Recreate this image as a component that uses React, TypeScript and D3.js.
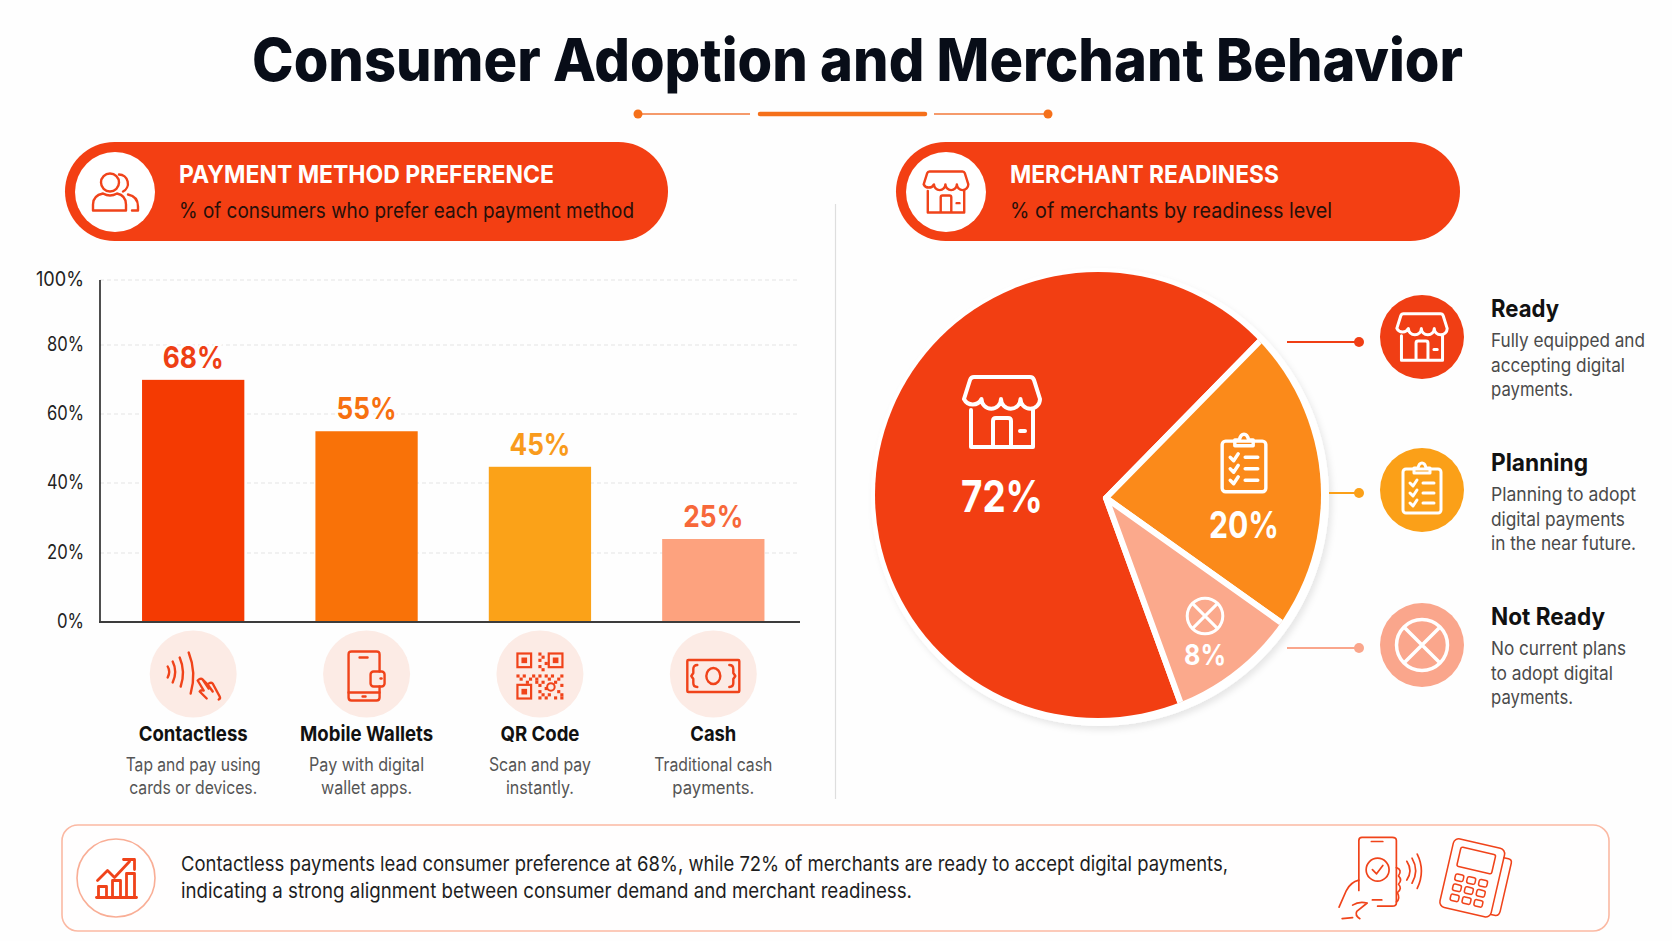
import React from "react";
import * as d3 from "d3";

/* DATA */
const categories = ["Contactless", "Mobile Wallets", "QR Code", "Cash"];
// bar heights as drawn in the picture, they differ a little from the printed labels
const barHeights = [69.9, 55, 44.7, 24];
const barLabels = ["68%", "55%", "45%", "25%"];
const barColors = ["#F43A02", "#F97208", "#FBA218", "#FDA27E"];
const barLabelColors = ["#EE3F14", "#F7700F", "#F99B1C", "#F7683A"];
const barCaptions = [
  ["Tap and pay using", "cards or devices."],
  ["Pay with digital", "wallet apps."],
  ["Scan and pay", "instantly."],
  ["Traditional cash", "payments."],
];
const yTicks = [0, 20, 40, 60, 80, 100];

const readiness = ["Ready", "Planning", "Not Ready"];
// slice sizes as drawn (angles), labels are the printed ones
const pieShares = [67.9, 22.5, 9.6];
const pieLabels = ["72%", "20%", "8%"];
const pieColors = ["#F23E12", "#FB8A1A", "#FBA98C"];
const legendColors = ["#F03E14", "#FBA018", "#FAA68C"];
const legendText = [
  ["Fully equipped and", "accepting digital", "payments."],
  ["Planning to adopt", "digital payments", "in the near future."],
  ["No current plans", "to adopt digital", "payments."],
];

const FONT = "Inter, 'Noto Sans', sans-serif";
const RED = "#F0431A";

// text widths measured on the picture, its lettering is narrower than Inter
const widths: Record<string, number> = {
  "Consumer Adoption and Merchant Behavior": 1211,
  "PAYMENT METHOD PREFERENCE": 375,
  "% of consumers who prefer each payment method": 455,
  "MERCHANT READINESS": 269,
  "% of merchants by readiness level": 322,
  "68%": 61,
  "55%": 60,
  "45%": 61,
  "25%": 60,
  Contactless: 109,
  "Mobile Wallets": 133,
  "QR Code": 79,
  Cash: 46,
  "Tap and pay using": 135,
  "cards or devices.": 128,
  "Pay with digital": 115,
  "wallet apps.": 91,
  "Scan and pay": 102,
  "instantly.": 68,
  "Traditional cash": 118,
  "payments.": 82,
  "Fully equipped and": 154,
  "accepting digital": 134,
  "Planning to adopt": 145,
  "digital payments": 134,
  "in the near future.": 145,
  "No current plans": 135,
  "to adopt digital": 122,
  Ready: 68,
  Planning: 97,
  "Not Ready": 114,
  "72%": 82,
  "20%": 70,
  "8%": 42,
  "Contactless payments lead consumer preference at 68%, while 72% of merchants are ready to accept digital payments,": 1047,
  "indicating a strong alignment between consumer demand and merchant readiness.": 731,
};
const tickWidth = (t: number) => (t === 100 ? 48 : t === 0 ? 27 : 37);

const T = ({ s, ...rest }: any) => (
  <text textLength={widths[s]} lengthAdjust="spacingAndGlyphs" {...rest}>
    {s}
  </text>
);

/* SCALES */
const x = d3.scaleBand<string>().domain(categories).range([106.5, 800]).paddingInner(0.41).paddingOuter(0.205);
// the axis in the picture is very slightly uneven, so the stops follow the gridlines
const y = d3.scaleLinear().domain(yTicks).range([622, 553, 483, 414, 345, 280]);

const apex = { x: 1106, y: 498 };
const pieGen = d3
  .pie<number>()
  .sort(null)
  .startAngle((160 * Math.PI) / 180)
  .endAngle((160 * Math.PI) / 180 + 2 * Math.PI);
const arcGen = d3.arc<d3.PieArcDatum<number>>().innerRadius(0).outerRadius(260);

/* ICONS */
type IconProps = { cx: number; cy: number; w: number; color?: string; sw?: number };

const Box = ({ cx, cy, w, bw, bh, color = RED, sw = 2.4, children }: any) => {
  const k = w / bw;
  return (
    <g
      transform={`translate(${cx - w / 2},${cy - (bh * k) / 2}) scale(${k})`}
      fill="none"
      stroke={color}
      strokeWidth={sw / k}
      strokeLinecap="round"
      strokeLinejoin="round"
    >
      {children}
    </g>
  );
};

const Store = (p: IconProps) => (
  <Box {...p} bw={80} bh={74}>
    <path d="M12 2H68Q71 2 72 5L78 24A9.75 9.75 0 0 1 58.5 24A9.75 9.75 0 0 1 39 24A9.75 9.75 0 0 1 19.5 24A9.75 9.75 0 0 1 2 24L8 5Q9 2 12 2Z" />
    <path d="M9 35V72H71V35M31 72V46Q31 43 34 43H46Q49 43 49 46V72M58 56H63" />
  </Box>
);

const Clipboard = (p: IconProps) => (
  <Box {...p} bw={40} bh={52}>
    <rect x={1} y={7} width={38} height={44} rx={3} />
    <path d="M12 11V6H16Q17 1 20 1Q23 1 24 6H28V11Z" />
    <path d="M8 21L11 24L15 18M21 21H32M8 31L11 34L15 28M21 31H32M8 41L11 44L15 38M21 41H32" />
  </Box>
);

const XCircle = (p: IconProps) => (
  <Box {...p} bw={52} bh={52}>
    <circle cx={26} cy={26} r={25} />
    <path d="M9 9L43 43M43 9L9 43" />
  </Box>
);

const Users = (p: IconProps) => (
  <Box {...p} bw={47} bh={39}>
    <circle cx={18} cy={10} r={9} />
    <path d="M1 38V32Q1 23 11 21Q18 25 25 21Q34 23 34 32V38Z" />
    <path d="M27 2A9 9 0 0 1 31 19M36 22Q46 24 46 34V38H40" />
  </Box>
);

const Contactless = (p: IconProps) => (
  <Box {...p} bw={55} bh={47}>
    <path d="M2 14Q5 19 2 25M7 9Q12 19 7 30M14 5Q20 19 15 34M23 0Q31 20 25 41" />
    <path d="M32 28Q35 25 37 27L42 32Q45 29 47 31L54 44Q55 46 53 47M32 28L38 38Q35 37 34 39L41 46M37 27L43 36M42 32L47 39" />
  </Box>
);

const Wallet = (p: IconProps) => (
  <Box {...p} bw={38} bh={51}>
    <path d="M32 21V4Q32 1 29 1H4Q1 1 1 4V47Q1 50 4 50H29Q32 50 32 47V36" />
    <path d="M12 7H20M1 42H32M15 46H18" />
    <rect x={23} y={21} width={14} height={15} rx={3} />
    <path d="M33 28H34" />
  </Box>
);

// finder squares and modules of the little QR glyph, on a 15 x 15 grid
const qrModules = [
  [7, 0], [8, 1], [7, 2], [9, 3], [7, 4], [8, 5], [0, 7], [2, 7], [4, 8], [5, 7], [7, 7], [9, 7], [11, 7], [13, 8], [14, 7],
  [1, 8], [3, 9], [6, 9], [8, 9], [10, 8], [12, 9], [14, 10], [7, 10], [9, 11], [7, 12], [8, 13], [10, 13], [7, 14], [9, 14],
  [13, 12], [14, 13], [12, 14], [14, 14], [6, 8],
];
const QR = ({ cx, cy, w, color = RED }: IconProps) => {
  const c = w / 15;
  const ox = cx - w / 2;
  const oy = cy - w / 2;
  const finder = [[0, 0], [10, 0], [0, 10]];
  return (
    <g fill={color}>
      {finder.map(([a, b]) => (
        <g key={`${a}-${b}`}>
          <rect x={ox + a * c + 1} y={oy + b * c + 1} width={5 * c - 2} height={5 * c - 2} fill="none" stroke={color} strokeWidth={2.2} />
          <rect x={ox + (a + 1.6) * c} y={oy + (b + 1.6) * c} width={1.8 * c} height={1.8 * c} />
        </g>
      ))}
      {qrModules.map(([a, b]) => (
        <rect key={`m${a}-${b}`} x={ox + a * c} y={oy + b * c} width={c} height={c} />
      ))}
      <circle cx={ox + 11 * c} cy={oy + 11 * c} r={c * 1.2} fill="none" stroke={color} strokeWidth={2} />
    </g>
  );
};

const Cash = (p: IconProps) => (
  <Box {...p} bw={54} bh={34}>
    <rect x={1} y={1} width={52} height={32} rx={1} />
    <ellipse cx={27} cy={17} rx={7} ry={8} />
    <path d="M11 6Q7 6 7 10V14L5 17L7 20V24Q7 28 11 28M43 6Q47 6 47 10V14L49 17L47 20V24Q47 28 43 28" />
  </Box>
);

const Trend = (p: IconProps) => (
  <Box {...p} bw={41} bh={41} sw={2.8}>
    <path d="M1 23L11 13L18 20L33 4M27 2H38V12" />
    <rect x={2} y={29} width={8} height={11} />
    <rect x={16} y={23} width={8} height={17} />
    <rect x={30} y={16} width={8} height={24} />
    <path d="M0 40H40" />
  </Box>
);

const PhoneTerminal = (p: IconProps) => (
  <Box {...p} bw={165} bh={80} sw={1.7}>
    <path d="M20 52V4Q20 1 23 1H52Q56 1 56 4V64Q56 67 52 67H38" />
    <path d="M32 5H43M33 61H42" />
    <circle cx={38} cy={32} r={11} />
    <path d="M33 32L37 36L43 28" />
    <path d="M1 68L8 52Q12 44 20 42M4 79L14 78M14 66Q20 62 28 64L18 72Q16 76 21 79M56 30Q62 32 58 38Q62 42 58 46Q62 50 57 54Q60 60 56 63" />
    <path d="M66 24Q72 33 66 42M71 21Q78 33 71 45M76 17Q84 33 76 50" />
    <g transform="translate(132,42) rotate(13) scale(0.9) translate(-130,-42)">
      <rect x={98} y={3} width={56} height={75} rx={6} />
      <path d="M154 12H159Q163 12 163 16V68Q163 74 158 74H154" />
      <rect x={107} y={11} width={38} height={21} rx={2} />
      {[0, 1, 2].map((r) =>
        [0, 1, 2].map((c) => <rect key={`${r}-${c}`} x={108 + c * 13} y={40 + r * 11} width={9} height={7} rx={2} />)
      )}
    </g>
  </Box>
);

const rowIcons = [Contactless, Wallet, QR, Cash];
const rowIconWidths = [55, 38, 47, 54];

const Pill = ({ x0, x1, tx, title, sub, children }: any) => (
  <g>
    <rect x={x0} y={142} width={x1 - x0} height={99} rx={49.5} fill="#F33F13" />
    <circle cx={x0 + 50} cy={192} r={40} fill="#fff" />
    {children}
    <T s={title} x={tx} y={183} fontSize={24.5} fontWeight={700} fill="#fff" />
    <T s={sub} x={tx} y={218} fontSize={21} fill="#27100A" />
  </g>
);

const App = () => {
  const slices = pieGen(pieShares);
  return (
    <svg
      width={1672}
      height={941}
      viewBox="0 0 1672 941"
      style={{ position: "absolute", left: 0, top: 0, background: "#FEFEFE" }}
      fontFamily={FONT}
    >
      <defs>
        <clipPath id="pie-clip">
          <circle cx={1098} cy={495} r={223} />
        </clipPath>
        <filter id="pie-shadow" x="-10%" y="-10%" width="120%" height="120%">
          <feDropShadow dx={3} dy={4} stdDeviation={3} floodColor="#000" floodOpacity={0.09} />
        </filter>
      </defs>

      {/* Title */}
      <T s="Consumer Adoption and Merchant Behavior" x={252} y={81} fontSize={59} fontWeight={800} fill="#080D18" />
      <line x1={638} x2={750} y1={114} y2={114} stroke="#F59A6B" strokeWidth={2} />
      <line x1={934} x2={1048} y1={114} y2={114} stroke="#F59A6B" strokeWidth={2} />
      <line x1={760} x2={925} y1={114} y2={114} stroke="#F5701A" strokeWidth={4.5} strokeLinecap="round" />
      <circle cx={638} cy={114} r={4.5} fill="#F5701A" />
      <circle cx={1048} cy={114} r={4.5} fill="#F5701A" />

      {/* Headers */}
      <Pill x0={65} x1={668} tx={179} title="PAYMENT METHOD PREFERENCE" sub="% of consumers who prefer each payment method">
        <Users cx={115.5} cy={192} w={47} />
      </Pill>
      <Pill x0={896} x1={1460} tx={1010} title="MERCHANT READINESS" sub="% of merchants by readiness level">
        <Store cx={946} cy={192} w={47} />
      </Pill>

      <line x1={835.5} x2={835.5} y1={204} y2={799} stroke="#DEDEDE" strokeWidth={1.2} />

      {/* Bar chart */}
      {yTicks.map((t) => (
        <g key={t}>
          {t > 0 && (
            <line x1={100} x2={799} y1={y(t)} y2={y(t)} stroke="#E4E4E4" strokeWidth={1.2} strokeDasharray="4 3" />
          )}
          <T s={`${t}%`} textLength={tickWidth(t)} x={84} y={y(t) + 5.5} textAnchor="end" fontSize={20} fill="#222" />
        </g>
      ))}
      {categories.map((c, i) => {
        const cx = x(c)! + x.bandwidth() / 2;
        const Icon = rowIcons[i];
        return (
          <g key={c}>
            <rect x={x(c)} y={y(barHeights[i])} width={x.bandwidth()} height={y(0) - y(barHeights[i])} fill={barColors[i]} />
            <T
              s={barLabels[i]}
              x={cx}
              y={y(barHeights[i]) - 12}
              textAnchor="middle"
              fontSize={30}
              fontWeight={700}
              fill={barLabelColors[i]}
              stroke="#FEFEFE"
              strokeWidth={5}
              paintOrder="stroke"
            />
            <circle cx={cx} cy={674} r={43.5} fill="#FCEBE5" />
            <Icon cx={cx} cy={676} w={rowIconWidths[i]} />
            <T s={c} x={cx} y={741} textAnchor="middle" fontSize={20.5} fontWeight={700} fill="#111" />
            {barCaptions[i].map((line, j) => (
              <T key={line} s={line} x={cx} y={771 + j * 23} textAnchor="middle" fontSize={18} fill="#555" />
            ))}
          </g>
        );
      })}
      <line x1={100} x2={100} y1={280} y2={622} stroke="#222" strokeWidth={1.6} />
      <line x1={99} x2={800} y1={y(0)} y2={y(0)} stroke="#3C3C3C" strokeWidth={2.2} />

      {/* Pie */}
      <circle cx={1100} cy={497} r={229} fill="#fff" filter="url(#pie-shadow)" />
      <g clipPath="url(#pie-clip)">
        <g transform={`translate(${apex.x},${apex.y})`}>
          {slices.map((s, i) => (
            <path key={readiness[i]} d={arcGen(s)!} fill={pieColors[i]} stroke="#fff" strokeWidth={6} strokeLinejoin="round" />
          ))}
        </g>
      </g>
      <Store cx={1002} cy={412} w={80} color="#fff" sw={4} />
      <T s={pieLabels[0]} x={1002} y={512} textAnchor="middle" fontSize={44} fontWeight={700} fill="#fff" />
      <Clipboard cx={1244} cy={463} w={46} color="#fff" sw={3.4} />
      <T s={pieLabels[1]} x={1244} y={538} textAnchor="middle" fontSize={37} fontWeight={700} fill="#fff" />
      <XCircle cx={1205} cy={616} w={37} color="#fff" sw={3} />
      <T s={pieLabels[2]} x={1205} y={665} textAnchor="middle" fontSize={29} fontWeight={700} fill="#fff" />

      {/* Legend */}
      {readiness.map((name, i) => {
        const cy = [337, 490, 645][i];
        const lineY = [342, 493, 648][i];
        const lineX = [1287, 1329, 1287][i];
        const titleY = [317, 471, 625][i];
        return (
          <g key={name}>
            <line x1={lineX} x2={1359} y1={lineY} y2={lineY} stroke={legendColors[i]} strokeWidth={2} />
            <circle cx={1359} cy={lineY} r={5} fill={legendColors[i]} />
            <circle cx={1422} cy={cy} r={42} fill={legendColors[i]} />
            {i === 0 && <Store cx={1422} cy={337} w={53} color="#fff" sw={3} />}
            {i === 1 && <Clipboard cx={1422} cy={488} w={40} color="#fff" sw={3} />}
            {i === 2 && <XCircle cx={1422} cy={645} w={53} color="#fff" sw={3.5} />}
            <T s={name} x={1491} y={titleY} fontSize={24} fontWeight={700} fill="#111" />
            {legendText[i].map((line, j) => (
              <T key={line} s={line} x={1491} y={titleY + 30 + j * 24.7} fontSize={18.5} fill="#4A4A4A" />
            ))}
          </g>
        );
      })}

      {/* Takeaway */}
      <rect x={62} y={825} width={1547} height={106} rx={16} fill="#FFFEFE" stroke="#FBB9A3" strokeWidth={1.6} />
      <circle cx={116} cy={878} r={39} fill="#fff" stroke="#F9AE96" strokeWidth={1.6} />
      <Trend cx={117} cy={878} w={41} />
      <T
        s="Contactless payments lead consumer preference at 68%, while 72% of merchants are ready to accept digital payments,"
        x={181}
        y={871}
        fontSize={20.5}
        fill="#1E1E1E"
      />
      <T
        s="indicating a strong alignment between consumer demand and merchant readiness."
        x={181}
        y={898}
        fontSize={20.5}
        fill="#1E1E1E"
      />
      <PhoneTerminal cx={1424} cy={878} w={172} />
    </svg>
  );
};

export default App;
